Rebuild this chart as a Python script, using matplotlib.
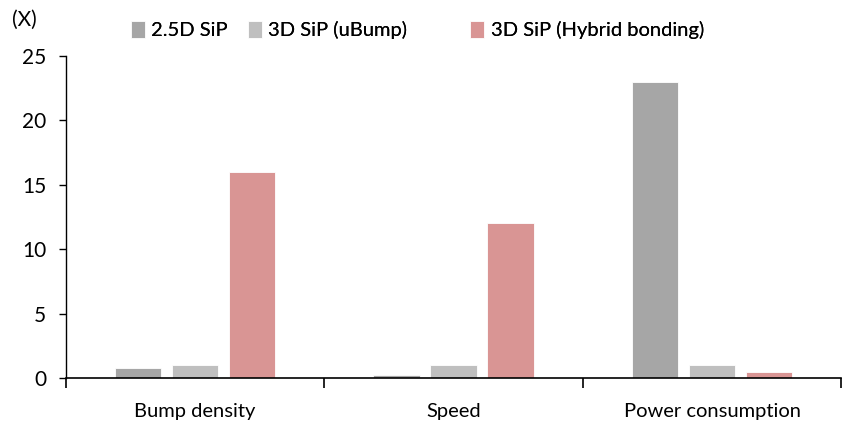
import numpy as np
import matplotlib.pyplot as plt

categories = ['Bump density', 'Speed', 'Power consumption']
series_names = ['2.5D SiP', '3D SiP (uBump)', '3D SiP (Hybrid bonding)']
sip_25d = [0.8, 0.2, 23]
sip_3d_ubump = [1, 1, 1]
sip_3d_hybrid = [16, 12, 0.5]
colors = ['#A6A6A6', '#BFBFBF', '#D99594']

plt.rcParams['font.family'] = ['Lato', 'DejaVu Sans']

fig = plt.figure(figsize=(8.43, 4.30), dpi=100)
ax = fig.add_axes([0.078, 0.121, 0.920, 0.749])

x = np.arange(len(categories))
width = 0.18
step = 0.22
bars = []
for i, (vals, name) in enumerate(zip([sip_25d, sip_3d_ubump, sip_3d_hybrid], series_names)):
    b = ax.bar(x + (i - 1) * step, vals, width, color=colors[i], label=name,
               edgecolor='white', linewidth=0.6)
    bars.append(b)

ax.set_xlim(-0.5, 2.5)
ax.set_ylim(0, 25)
ax.set_yticks([0, 5, 10, 15, 20, 25])
ax.tick_params(axis='y', labelsize=15, length=5, width=1, direction='out', pad=9)

# category boundaries as major ticks, labels at centres
ax.set_xticks([-0.5, 0.5, 1.5, 2.5])
ax.set_xticklabels([])
ax.set_xticks(x, minor=True)
ax.set_xticklabels(categories, minor=True)
ax.tick_params(axis='x', which='major', length=7, width=1.2, direction='out')
ax.tick_params(axis='x', which='minor', length=0, labelsize=14.5, pad=18)

for s in ['top', 'right']:
    ax.spines[s].set_visible(False)
ax.spines['left'].set_linewidth(1)
ax.spines['bottom'].set_linewidth(1.2)

fig.text(0.014, 0.953, '(X)', fontsize=15, ha='left', va='center')

# legend entries placed one by one (uneven spacing like the original)
legend_x = [0.155, 0.294, 0.558]
for b, name, lx in zip(bars, series_names, legend_x):
    leg = fig.legend([b], [name], loc='center left', bbox_to_anchor=(lx, 0.93),
                     frameon=False, fontsize=14.5, handlelength=0.7, handleheight=0.9,
                     handletextpad=0.3, borderaxespad=0, borderpad=0)
    fig.add_artist(leg)

fig.savefig('out.png', dpi=100)
